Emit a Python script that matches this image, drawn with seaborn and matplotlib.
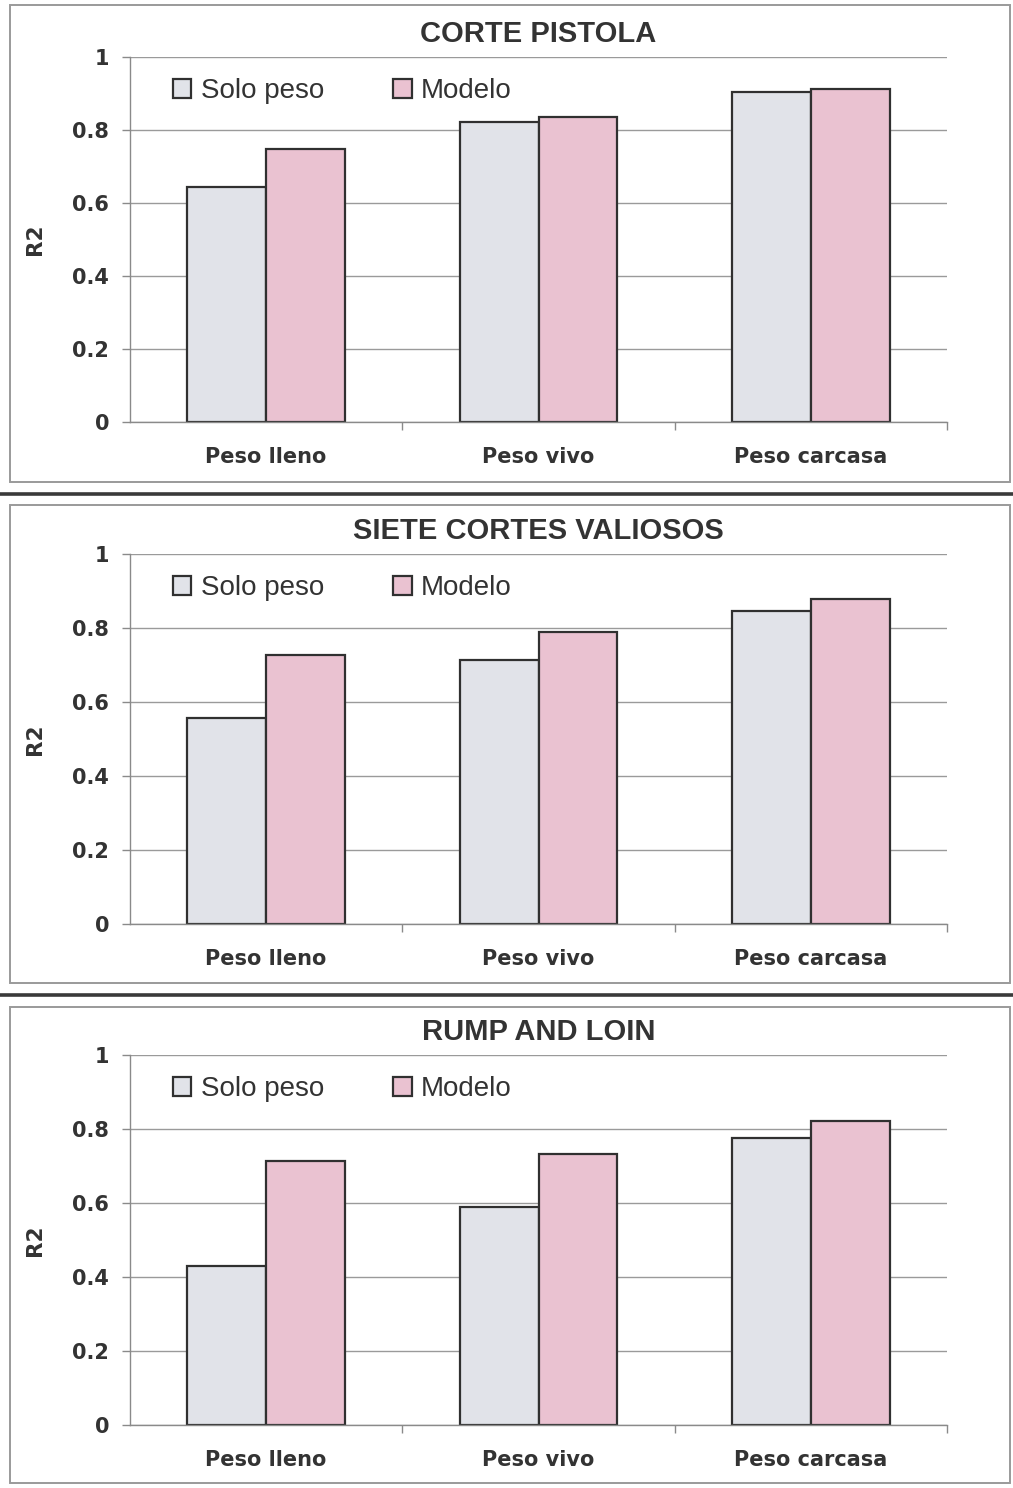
import matplotlib
matplotlib.use("Agg")
import matplotlib.pyplot as plt
from matplotlib.patches import Rectangle
from matplotlib.lines import Line2D
import seaborn as sns
import pandas as pd

# Data
categorias = ["Peso lleno", "Peso vivo", "Peso carcasa"]
series = ["Solo peso", "Modelo"]
titulos = ["CORTE PISTOLA", "SIETE CORTES VALIOSOS", "RUMP AND LOIN"]

pistola_solo = [0.644, 0.822, 0.904]
pistola_modelo = [0.748, 0.836, 0.912]
siete_solo = [0.557, 0.714, 0.846]
siete_modelo = [0.727, 0.789, 0.878]
rump_solo = [0.430, 0.589, 0.776]
rump_modelo = [0.714, 0.732, 0.822]

yticks = [0, 0.2, 0.4, 0.6, 0.8, 1]
ytick_labels = ["0", "0.2", "0.4", "0.6", "0.8", "1"]

paneles = [
    (titulos[0], pistola_solo, pistola_modelo),
    (titulos[1], siete_solo, siete_modelo),
    (titulos[2], rump_solo, rump_modelo),
]

sns.set_theme(style="white")
plt.rcParams["font.family"] = ["DejaVu Sans"]

W, H = 1013, 1488
fig = plt.figure(figsize=(W / 100, H / 100), dpi=100)

TXT = "#333333"
colores = {"Solo peso": "#e1e3e9", "Modelo": "#eac2d1"}

# axes placement in pixels: (y of value 0, y of value 1)
ejes_px = [(422, 57), (924, 554), (1425, 1055)]
marcos_px = [(5, 482), (505, 983), (1007, 1483)]
separadores_px = [494, 995]

for (titulo, solo, modelo), (y0, y1), (fy0, fy1) in zip(paneles, ejes_px, marcos_px):
    # panel frame
    fig.add_artist(Rectangle((10 / W, 1 - fy1 / H), 1000 / W, (fy1 - fy0) / H,
                             transform=fig.transFigure, fill=False,
                             edgecolor="#9a9a9a", linewidth=1.4))
    ax = fig.add_axes([130 / W, 1 - y0 / H, 817 / W, (y0 - y1) / H])
    df = pd.DataFrame({
        "categoria": categorias * 2,
        "serie": [series[0]] * 3 + [series[1]] * 3,
        "r2": solo + modelo,
    })
    ax.set_axisbelow(True)
    ax.yaxis.grid(True, color="#9a9a9a", linewidth=1.0)
    sns.barplot(data=df, x="categoria", y="r2", hue="serie", hue_order=series,
                order=categorias, palette=colores, width=0.58, gap=0,
                edgecolor="#303030", linewidth=1.6, saturation=1, ax=ax)
    ax.set_xlim(-0.5, 2.5)
    ax.set_ylim(0, 1)
    ax.set_yticks(yticks)
    ax.set_yticklabels(ytick_labels)
    ax.set_xlabel("")
    ax.set_ylabel("R2", fontsize=15.5, fontweight="bold", color=TXT, labelpad=20)
    ax.set_title(titulo, fontsize=21, fontweight="bold", color=TXT,
                 family="Liberation Sans", pad=11)
    for s in ["top", "right"]:
        ax.spines[s].set_visible(False)
    for s in ["left", "bottom"]:
        ax.spines[s].set_color("#8a8a8a")
        ax.spines[s].set_linewidth(1.0)
    ax.tick_params(axis="y", left=True, length=6, width=1, color="#8a8a8a",
                   pad=9, labelsize=15, labelcolor=TXT)
    ax.tick_params(axis="x", bottom=True, length=0, pad=18,
                   labelsize=15, labelcolor=TXT)
    ax.set_xticks([0.5, 1.5, 2.5], minor=True)
    ax.tick_params(axis="x", which="minor", bottom=True, length=6, width=1,
                   color="#8a8a8a")
    for lab in ax.get_xticklabels() + ax.get_yticklabels():
        lab.set_fontweight("bold")
    sns.move_legend(ax, "upper left", bbox_to_anchor=(0.022, 1.01), ncol=2,
                    frameon=False, title=None,
                    prop={"family": "Liberation Sans", "size": 20},
                    handlelength=0.65, handleheight=0.65, handletextpad=0.35,
                    columnspacing=2.5, labelcolor=TXT)
    for h in ax.get_legend().legend_handles:
        h.set_edgecolor("#303030")
        h.set_linewidth(1.6)

for yp in separadores_px:
    fig.add_artist(Line2D([0, 1], [1 - yp / H, 1 - yp / H], transform=fig.transFigure,
                          color="#3a3a3a", linewidth=2.6))

fig.savefig("out.png", dpi=100)
